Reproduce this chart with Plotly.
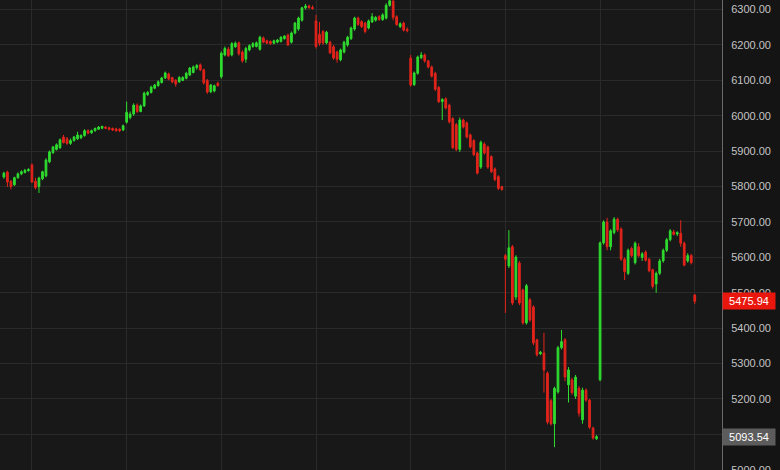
import plotly.graph_objects as go

# 15-minute candles, one list per field (prices)
opens = [
    # tail of previous session
    5827, 5841, 5815, 5805, 5825, 5836, 5840, 5845,
    # session 1
    5861, 5815, 5800, 5822, 5830, 5870, 5896, 5905, 5910, 5940, 5935, 5922, 5930, 5935,
    5938, 5944, 5958, 5952, 5958, 5962, 5965, 5968, 5966, 5964, 5963, 5962, 5960,
    # session 2
    5982, 5995, 6005, 6030, 6012, 6028, 6060, 6066, 6078, 6085, 6094, 6107, 6118, 6108,
    6100, 6096, 6100, 6106, 6115, 6122, 6136, 6144, 6130, 6100, 6068, 6070, 6092,
    # session 3
    6110, 6172, 6188, 6172, 6195, 6206, 6180, 6160, 6186, 6196, 6196, 6188, 6220, 6212,
    6210, 6205, 6208, 6210, 6218, 6228, 6208, 6234, 6245, 6270, 6305, 6310, 6306,
    # session 4
    6268, 6230, 6238, 6206, 6208, 6195, 6180, 6158, 6180, 6200, 6218, 6245, 6276, 6266,
    6262, 6248, 6265, 6270, 6280, 6272, 6276, 6312, 6324, 6280, 6252, 6262, 6244,
    # session 5
    6163, 6088, 6120, 6164, 6172, 6155, 6138, 6120, 6080, 6040, 6048, 6030, 5992, 5975,
    5905, 5988, 5980, 5946, 5930, 5895, 5855, 5920, 5912, 5885, 5850, 5828, 5800,
    # session 6
    5605, 5576, 5630, 5488, 5584, 5508, 5415, 5480, 5460, 5367, 5328, 5330, 5273, 5195,
    5130, 5220, 5345, 5367, 5240, 5254, 5208, 5230, 5141, 5225, 5197, 5118, 5088,
    # session 7
    5254, 5641, 5700, 5630, 5670, 5708, 5680, 5595, 5555, 5625, 5585, 5630, 5600, 5615,
    5595, 5565, 5525, 5555, 5590, 5620, 5650, 5672, 5666, 5668, 5640, 5590, 5605,
    # session 8
    5494,
]
highs = [
    5842, 5845, 5818, 5828, 5840, 5846, 5850, 5852,
    5866, 5825, 5828, 5845, 5880, 5902, 5915, 5922, 5936, 5946, 5940, 5936, 5943, 5955,
    5948, 5962, 5962, 5961, 5967, 5971, 5972, 5971, 5969, 5967, 5966, 5965, 5975,
    6040, 6012, 6035, 6035, 6032, 6068, 6070, 6085, 6090, 6100, 6110, 6125, 6122, 6110,
    6104, 6112, 6112, 6124, 6138, 6142, 6146, 6148, 6133, 6104, 6090, 6088, 6096,
    6182, 6196, 6194, 6208, 6210, 6210, 6185, 6195, 6202, 6208, 6210, 6226, 6224, 6215,
    6213, 6215, 6217, 6225, 6228, 6232, 6238, 6265, 6280, 6308, 6316, 6314, 6312,
    6285, 6265, 6242, 6240, 6212, 6200, 6184, 6190, 6212, 6226, 6252, 6280, 6280, 6270,
    6265, 6272, 6290, 6282, 6284, 6290, 6318, 6332, 6330, 6284, 6264, 6266, 6250,
    6172, 6125, 6170, 6180, 6176, 6158, 6142, 6124, 6084, 6050, 6052, 6034, 5996, 5980,
    5995, 5992, 5984, 5950, 5934, 5898, 5930, 5925, 5916, 5888, 5854, 5832, 5802,
    5610, 5677, 5635, 5606, 5590, 5512, 5525, 5485, 5465, 5370, 5336, 5387, 5278, 5200,
    5235, 5350, 5395, 5372, 5290, 5260, 5268, 5236, 5232, 5230, 5200, 5122, 5098,
    5645, 5705, 5712, 5680, 5714, 5712, 5685, 5600, 5625, 5630, 5645, 5640, 5615, 5620,
    5598, 5568, 5560, 5596, 5625, 5655, 5680, 5678, 5674, 5705, 5645, 5612, 5610,
    5496,
]
lows = [
    5822, 5799, 5792, 5802, 5822, 5832, 5837, 5842,
    5810, 5792, 5782, 5818, 5826, 5866, 5892, 5902, 5906, 5922, 5918, 5918, 5927, 5932,
    5934, 5941, 5948, 5949, 5955, 5960, 5962, 5962, 5959, 5957, 5955, 5954, 5957,
    5978, 5990, 6000, 6008, 6010, 6025, 6056, 6063, 6075, 6082, 6091, 6104, 6100, 6092,
    6082, 6093, 6098, 6103, 6112, 6120, 6130, 6126, 6088, 6062, 6064, 6066, 6082,
    6105, 6168, 6166, 6168, 6192, 6170, 6150, 6150, 6182, 6192, 6193, 6184, 6205, 6202,
    6200, 6202, 6205, 6207, 6215, 6197, 6204, 6230, 6240, 6266, 6300, 6302, 6300,
    6190, 6198, 6200, 6202, 6174, 6158, 6150, 6154, 6176, 6195, 6214, 6240, 6254, 6248,
    6233, 6244, 6262, 6266, 6268, 6268, 6272, 6308, 6270, 6254, 6248, 6238, 6236,
    6082, 6084, 6116, 6160, 6150, 6134, 6108, 6070, 6036, 5988, 6018, 5978, 5906, 5900,
    5898, 5964, 5936, 5908, 5886, 5834, 5850, 5890, 5850, 5838, 5815, 5790, 5788,
    5443, 5570, 5465, 5480, 5465, 5410, 5410, 5418, 5352, 5320, 5324, 5218, 5128, 5125,
    5064, 5215, 5340, 5250, 5190, 5212, 5200, 5150, 5130, 5192, 5115, 5085, 5084,
    5250, 5636, 5620, 5620, 5665, 5672, 5590, 5536, 5550, 5600, 5580, 5600, 5590, 5588,
    5558, 5512, 5500, 5550, 5585, 5615, 5645, 5662, 5660, 5630, 5575, 5585, 5580,
    5468,
]
closes = [
    5838, 5813, 5800, 5825, 5836, 5842, 5846, 5848,
    5813, 5797, 5824, 5842, 5875, 5898, 5912, 5918, 5932, 5924, 5922, 5930, 5940, 5946,
    5944, 5958, 5951, 5958, 5964, 5968, 5970, 5965, 5962, 5960, 5958, 5958, 5972,
    6010, 6005, 6030, 6012, 6028, 6064, 6066, 6081, 6087, 6096, 6107, 6121, 6104, 6096,
    6090, 6108, 6108, 6120, 6135, 6138, 6142, 6130, 6093, 6067, 6087, 6085, 6085,
    6177, 6190, 6170, 6204, 6205, 6175, 6155, 6190, 6198, 6204, 6206, 6222, 6208, 6205,
    6204, 6212, 6214, 6222, 6225, 6200, 6234, 6262, 6276, 6305, 6310, 6306, 6303,
    6196, 6205, 6206, 6236, 6178, 6163, 6160, 6186, 6208, 6222, 6248, 6276, 6258, 6252,
    6238, 6268, 6280, 6278, 6272, 6285, 6312, 6325, 6278, 6258, 6260, 6242, 6240,
    6087, 6121, 6166, 6172, 6155, 6138, 6112, 6075, 6040, 6046, 6022, 5983, 5910, 5905,
    5988, 5968, 5940, 5912, 5890, 5838, 5925, 5895, 5855, 5842, 5820, 5795, 5792,
    5595, 5627, 5471, 5601, 5471, 5415, 5520, 5423, 5358, 5325, 5332, 5282, 5135, 5130,
    5230, 5345, 5362, 5262, 5282, 5218, 5262, 5160, 5225, 5197, 5120, 5090, 5093.54,
    5641, 5700, 5630, 5675, 5708, 5678, 5595, 5560, 5620, 5605, 5640, 5605, 5610, 5592,
    5562, 5518, 5555, 5590, 5620, 5650, 5675, 5665, 5670, 5640, 5578, 5605, 5585,
    5475.94,
]

# first candle of every session (vertical grid lines)
session_starts = [8, 35, 62, 89, 116, 143, 170, 197]

# price axis levels; the 5100 label sits under the previous-close tag
price_levels = [5000, 5100, 5200, 5300, 5400, 5500, 5600, 5700, 5800, 5900,
                6000, 6100, 6200, 6300]
hidden_levels = [5100]

last_price = 5475.94
prev_close = 5093.54

green = '#2fdc2f'
red = '#e3241b'

fig = go.Figure(go.Candlestick(
    x=list(range(len(opens))),
    open=opens, high=highs, low=lows, close=closes,
    increasing=dict(line=dict(color=green, width=1), fillcolor=green),
    decreasing=dict(line=dict(color=red, width=1), fillcolor=red),
    whiskerwidth=0,
    showlegend=False,
))

fig.update_layout(
    width=780, height=470,
    margin=dict(l=0, r=58, t=0, b=0),
    plot_bgcolor='#181818',
    paper_bgcolor='#141414',
    font=dict(family='Liberation Sans, Arial, sans-serif', size=11, color='#c4c4c4'),
    xaxis=dict(
        range=[-1.11, 204.77],
        tickvals=session_starts,
        showticklabels=False,
        showgrid=True, gridcolor='#2a2a2a', gridwidth=1,
        zeroline=False,
        automargin=False,
        rangeslider=dict(visible=False),
    ),
    yaxis=dict(
        side='right',
        range=[4999.4, 6327.1],
        tickvals=price_levels,
        ticktext=['' if v in hidden_levels else f'{v:.2f}' for v in price_levels],
        showgrid=True, gridcolor='#2a2a2a', gridwidth=1,
        zeroline=False,
        showline=True, linecolor='#6a6a6a', linewidth=1,
        ticks='', ticklabelstandoff=6,
        ticklabeloverflow='allow',
        automargin=False,
    ),
)

# price tags on the axis
for price, bg in [(last_price, '#e8160c'), (prev_close, '#5c5c5c')]:
    fig.add_annotation(
        x=1, xref='paper', xanchor='left',
        y=price, yref='y',
        text=f'{price:.2f}',
        showarrow=False,
        font=dict(color='#ffffff', size=11),
        bgcolor=bg, width=48, borderpad=2,
    )

# drop the default page margin so the chart sits at the window's corner
fig.write_html("out.html", config={'displayModeBar': False},
               post_script="document.body.style.margin='0';")
